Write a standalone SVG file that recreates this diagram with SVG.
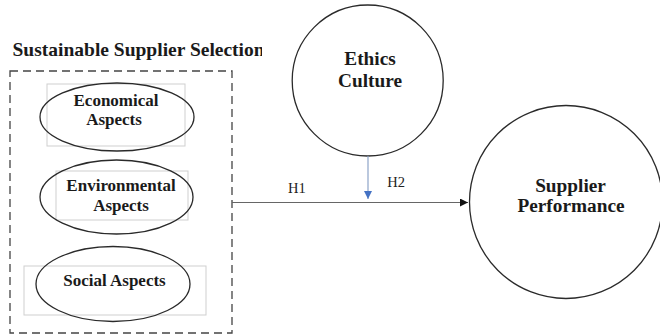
<svg xmlns="http://www.w3.org/2000/svg" width="660" height="335" viewBox="0 0 660 335">
<style>
text{font-family:'Liberation Serif','DejaVu Serif',serif}
.t{font-weight:bold;fill:#1a1a1a;text-anchor:middle}
.s{font-size:17px}
.b{font-size:19.3px}
.h{font-size:14.5px;fill:#222}
.shape{fill:#fff;stroke:#2a2a2a;stroke-width:1.3}
.box{fill:none;stroke:#cfcfcf;stroke-width:1}
</style>
<defs>
<marker id="ah" viewBox="0 0 10 10" refX="10" refY="5" markerWidth="9" markerHeight="8" markerUnits="userSpaceOnUse" orient="auto"><path d="M0,0 L10,5 L0,10 z" fill="#111"/></marker>
<marker id="ab" viewBox="0 0 10 10" refX="10" refY="5" markerWidth="8" markerHeight="8" markerUnits="userSpaceOnUse" orient="auto"><path d="M0,0 L10,5 L0,10 z" fill="#4472c4"/></marker>
<clipPath id="tc"><rect x="0" y="30" width="262" height="40"/></clipPath>
</defs>
<rect width="660" height="335" fill="#fff"/>
<g id="title">
<text class="t" x="12.5" y="56" font-size="19.5" text-anchor="start" style="text-anchor:start" clip-path="url(#tc)">Sustainable Supplier Selection</text>
</g>
<g id="sustainable-supplier-selection">
<rect x="10" y="71" width="222" height="262" fill="none" stroke="#444" stroke-width="1.3" stroke-dasharray="8,5"/>
</g>
<g id="economical">
<rect class="box" x="47" y="84" width="138" height="62"/>
<ellipse class="shape" cx="117" cy="117" rx="77" ry="34" fill-opacity="0"/>
<text class="t s" x="116" y="106">Economical</text>
<text class="t s" x="114" y="125">Aspects</text>
</g>
<g id="environmental">
<rect class="box" x="56" y="171" width="132" height="49"/>
<ellipse class="shape" cx="116.5" cy="197" rx="76.5" ry="37" fill-opacity="0"/>
<text class="t s" x="121" y="190.5">Environmental</text>
<text class="t s" x="121" y="211">Aspects</text>
</g>
<g id="social">
<rect class="box" x="24" y="266" width="182" height="49"/>
<ellipse class="shape" cx="113" cy="284" rx="77" ry="37.5" fill-opacity="0"/>
<text class="t s" x="114.5" y="286">Social Aspects</text>
</g>
<g id="ethics">
<circle class="shape" cx="367.7" cy="80.5" r="75.5"/>
<text class="t b" x="370" y="65">Ethics</text>
<text class="t b" x="370" y="86.7">Culture</text>
</g>
<g id="performance">
<circle class="shape" cx="566" cy="202" r="96.5"/>
<text class="t b" x="570.5" y="191.7">Supplier</text>
<text class="t b" x="571" y="212.3">Performance</text>
</g>
<g id="connectors">
<line x1="232" y1="202.5" x2="468" y2="202.5" stroke="#666" stroke-width="1.1" marker-end="url(#ah)"/>
<line x1="368" y1="156" x2="368" y2="199" stroke="#8ea4c8" stroke-width="1.2" marker-end="url(#ab)"/>
<text class="h" x="288" y="192.5">H1</text>
<text class="h" x="387.3" y="186.7">H2</text>
</g>
</svg>
